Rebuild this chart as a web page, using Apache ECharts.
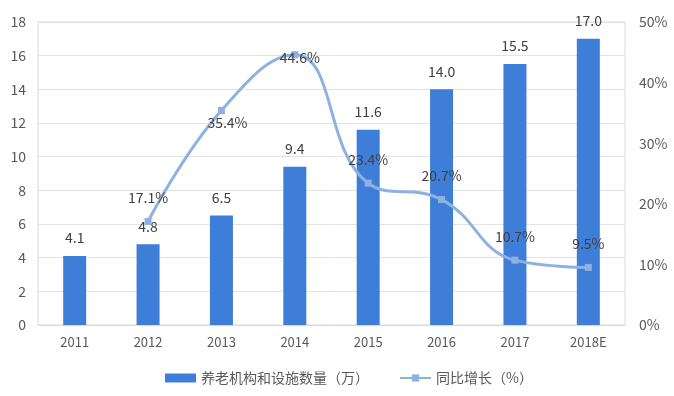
<!DOCTYPE html>
<html><head><meta charset="utf-8">
<script src="https://cdn.jsdelivr.net/npm/echarts@6/dist/echarts.min.js"></script>
<style>html,body{margin:0;padding:0;background:#fff}#c{width:674px;height:396px}</style>
</head><body><div id="c"></div>
<script>
var categories = ['2011','2012','2013','2014','2015','2016','2017','2018E'];
var barValues = [4.1, 4.8, 6.5, 9.4, 11.6, 14.0, 15.5, 17.0];
var growthValues = [null, 17.1, 35.4, 44.6, 23.4, 20.7, 10.7, 9.5];
var leftTicks = {min: 0, max: 18, interval: 2};
var rightTicks = {min: 0, max: 50, interval: 10};
var barName = '养老机构和设施数量（万）';
var lineName = '同比增长（%）';

// label placement tweaks (style only)
var lineLabelStyle = {
  2: {position: 'inside', offset: [6, 12]},
  3: {position: 'inside', offset: [5, 3]}
};

var lineData = growthValues.map(function (v, i) {
  var item = {value: v};
  if (lineLabelStyle[i]) item.label = lineLabelStyle[i];
  return item;
});

var chart = echarts.init(document.getElementById('c'));
var font = '"Microsoft YaHei","Noto Sans CJK SC",sans-serif';
chart.setOption({
  animation: false,
  textStyle: {fontFamily: font},
  grid: {left: 38, right: 49, top: 22, bottom: 71, show: true, borderColor: '#d9d9d9', borderWidth: 1},
  legend: {
    bottom: 6, left: 160, itemGap: 30, itemWidth: 31, itemHeight: 9,
    textStyle: {color: '#595959', fontSize: 14, fontFamily: font},
    data: [{name: barName, icon: 'rect'}, {name: lineName}]
  },
  xAxis: {
    type: 'category', data: categories,
    axisLine: {lineStyle: {color: '#d9d9d9'}},
    axisTick: {show: false},
    axisLabel: {color: '#595959', fontSize: 13, margin: 11}
  },
  yAxis: [{
    type: 'value', min: leftTicks.min, max: leftTicks.max, interval: leftTicks.interval,
    axisLine: {show: false}, axisTick: {show: false},
    axisLabel: {color: '#595959', fontSize: 14, margin: 12},
    splitLine: {lineStyle: {color: '#e3e3e3'}}
  }, {
    type: 'value', min: rightTicks.min, max: rightTicks.max, interval: rightTicks.interval,
    axisLine: {show: false}, axisTick: {show: false},
    axisLabel: {color: '#595959', fontSize: 14, margin: 14, formatter: '{value}%'},
    splitLine: {show: false}
  }],
  series: [{
    name: barName, type: 'bar', data: barValues, barWidth: 23,
    itemStyle: {color: '#3e7ed8'},
    label: {show: true, position: 'top', distance: 11, color: '#404040', fontSize: 14,
      formatter: function(p){return p.value.toFixed(1);}}
  }, {
    name: lineName, type: 'line', yAxisIndex: 1, data: lineData, smooth: 0.45,
    connectNulls: false,
    symbol: 'rect', symbolSize: 7,
    lineStyle: {color: '#8db2e2', width: 3},
    itemStyle: {color: '#8db2e2'},
    label: {show: true, position: 'top', distance: 13, color: '#404040', fontSize: 14,
      formatter: function(p){return p.value.toFixed(1) + '%';}}
  }]
});
</script></body></html>
